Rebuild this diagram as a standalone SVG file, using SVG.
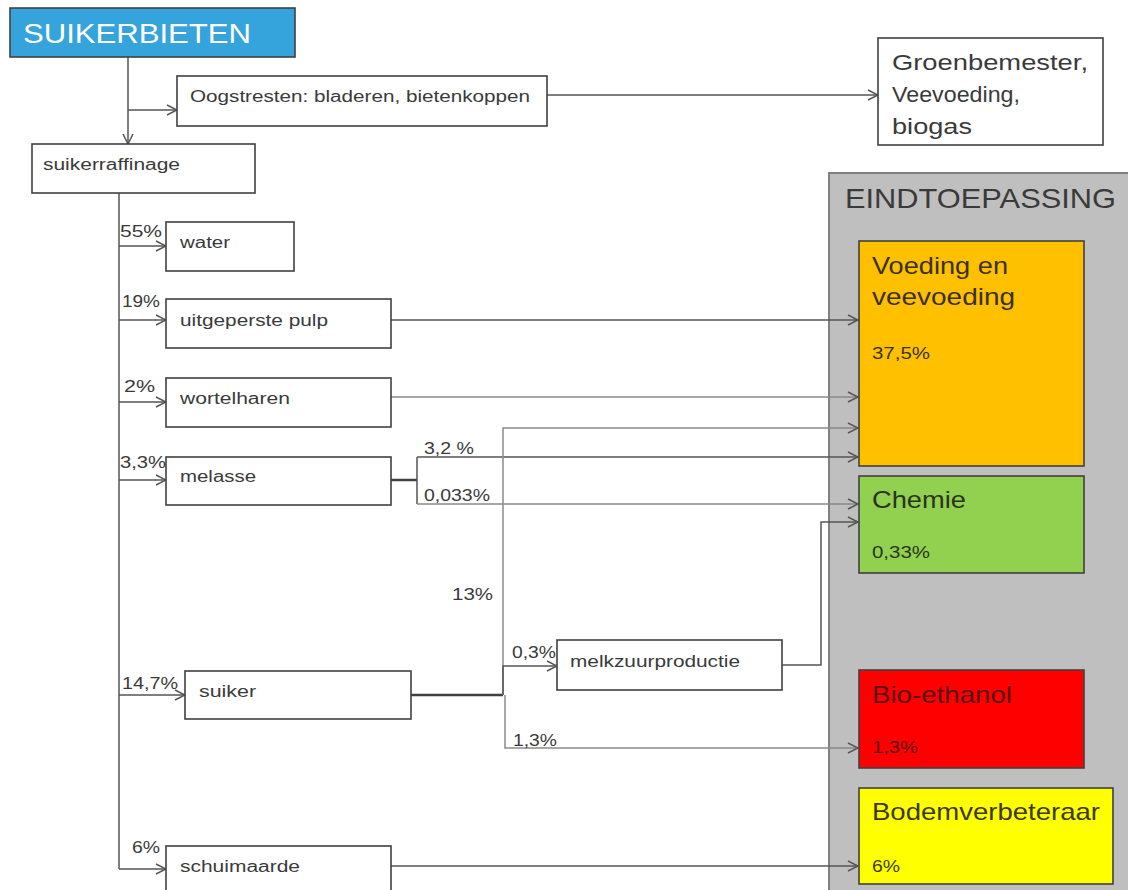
<svg xmlns="http://www.w3.org/2000/svg" width="1128" height="890" viewBox="0 0 1128 890">
<style>
.box{fill:#fff;stroke:#404040;stroke-width:1.6}
.t{font-family:"Liberation Sans",Arial,sans-serif;fill:#3a3a3a}
.s15{font-size:15px}
.s16{font-size:16px}
.s22{font-size:22px}
.s24{font-size:24px}
.s28{font-size:28px}
.w{fill:#fff}
.to{fill:#3a3020}
.tg{fill:#2a3320}
.tr{fill:#5a1010}
.ty{fill:#3a3a10}
.c{fill:none;stroke:#555;stroke-width:1.5}
.cl{fill:none;stroke:#8a8a8a;stroke-width:1.5}
.ck{fill:none;stroke:#404040;stroke-width:2.5}
</style>
<defs>
<marker id="arr" viewBox="0 0 12 12" refX="11" refY="6" markerWidth="12" markerHeight="12" orient="auto" markerUnits="userSpaceOnUse">
<path d="M1,1 L11,6 L1,11" fill="none" stroke="#555" stroke-width="1.5"/>
</marker>
</defs>
<rect width="1128" height="890" fill="#fff"/>
<g id="panel-eindtoepassing">
<rect x="829" y="173" width="310" height="730" fill="#BFBFBF" stroke="#808080" stroke-width="2"/>
<text class="t s28" x="845" y="208" textLength="271" lengthAdjust="spacingAndGlyphs">EINDTOEPASSING</text>
</g>
<g id="connectors">
<path class="c" d="M128,57 V144" marker-end="url(#arr)"/>
<path class="c" d="M128,110 H177" marker-end="url(#arr)"/>
<path class="c" d="M547,95 H878" marker-end="url(#arr)"/>
<path class="c" d="M119,193 V869"/>
<path class="c" d="M119,246 H166" marker-end="url(#arr)"/>
<path class="c" d="M119,320 H166" marker-end="url(#arr)"/>
<path class="c" d="M119,402 H166" marker-end="url(#arr)"/>
<path class="c" d="M119,480 H166" marker-end="url(#arr)"/>
<path class="c" d="M119,695 H185" marker-end="url(#arr)"/>
<path class="c" d="M119,869 H166" marker-end="url(#arr)"/>
<path class="c" d="M391,320 H858" marker-end="url(#arr)"/>
<path class="cl" d="M391,397 H858" marker-end="url(#arr)"/>
<path class="ck" d="M391,480 H417"/>
<path class="c" d="M417,457 V504"/>
<path class="c" d="M417,457 H858" marker-end="url(#arr)"/>
<path class="cl" d="M417,504 H858" marker-end="url(#arr)"/>
<path class="ck" d="M411,695 H503"/>
<path class="cl" d="M503,695 V428 H858" marker-end="url(#arr)"/>
<path class="c" d="M503,695 V666 H557" marker-end="url(#arr)"/>
<path class="cl" d="M505,695 V748 H858" marker-end="url(#arr)"/>
<path class="c" d="M782,665 H821 V522 H858" marker-end="url(#arr)"/>
<path class="c" d="M391,866 H858" marker-end="url(#arr)"/>
</g>
<g id="labels">
<text class="t s16" x="120" y="237" textLength="42" lengthAdjust="spacingAndGlyphs">55%</text>
<text class="t s16" x="122" y="307" textLength="38" lengthAdjust="spacingAndGlyphs">19%</text>
<text class="t s16" x="124" y="392" textLength="31" lengthAdjust="spacingAndGlyphs">2%</text>
<text class="t s16" x="120" y="468" textLength="46" lengthAdjust="spacingAndGlyphs">3,3%</text>
<text class="t s16" x="122" y="689" textLength="56" lengthAdjust="spacingAndGlyphs">14,7%</text>
<text class="t s16" x="132" y="853" textLength="28" lengthAdjust="spacingAndGlyphs">6%</text>
<text class="t s16" x="424" y="454" textLength="50" lengthAdjust="spacingAndGlyphs">3,2 %</text>
<text class="t s16" x="424" y="501" textLength="66" lengthAdjust="spacingAndGlyphs">0,033%</text>
<text class="t s16" x="452" y="600" textLength="41" lengthAdjust="spacingAndGlyphs">13%</text>
<text class="t s16" x="512" y="658" textLength="44" lengthAdjust="spacingAndGlyphs">0,3%</text>
<text class="t s16" x="513" y="746" textLength="44" lengthAdjust="spacingAndGlyphs">1,3%</text>
</g>
<g id="suikerbieten">
<rect x="10" y="8" width="285" height="49" fill="#35A3DC" stroke="#404040" stroke-width="1.6"/>
<text class="t s28 w" x="23" y="43" textLength="228" lengthAdjust="spacingAndGlyphs">SUIKERBIETEN</text>
</g>
<g id="oogstresten">
<rect class="box" x="177" y="76" width="370" height="50"/>
<text class="t s16" x="190" y="102" textLength="340" lengthAdjust="spacingAndGlyphs">Oogstresten: bladeren, bietenkoppen</text>
</g>
<g id="groenbemester">
<rect class="box" x="878" y="38" width="225" height="107"/>
<text class="t s22" x="892" y="70" textLength="196" lengthAdjust="spacingAndGlyphs">Groenbemester,</text>
<text class="t s22" x="892" y="102" textLength="128" lengthAdjust="spacingAndGlyphs">Veevoeding,</text>
<text class="t s22" x="892" y="134" textLength="80" lengthAdjust="spacingAndGlyphs">biogas</text>
</g>
<g id="suikerraffinage">
<rect class="box" x="32" y="144" width="223" height="49"/>
<text class="t s16" x="43" y="170" textLength="137" lengthAdjust="spacingAndGlyphs">suikerraffinage</text>
</g>
<g id="water">
<rect class="box" x="166" y="222" width="128" height="49"/>
<text class="t s16" x="180" y="248" textLength="50" lengthAdjust="spacingAndGlyphs">water</text>
</g>
<g id="pulp">
<rect class="box" x="166" y="299" width="225" height="49"/>
<text class="t s16" x="180" y="326" textLength="148" lengthAdjust="spacingAndGlyphs">uitgeperste pulp</text>
</g>
<g id="wortelharen">
<rect class="box" x="166" y="378" width="225" height="49"/>
<text class="t s16" x="180" y="404" textLength="110" lengthAdjust="spacingAndGlyphs">wortelharen</text>
</g>
<g id="melasse">
<rect class="box" x="166" y="457" width="225" height="48"/>
<text class="t s16" x="180" y="482" textLength="76" lengthAdjust="spacingAndGlyphs">melasse</text>
</g>
<g id="suiker">
<rect class="box" x="185" y="671" width="226" height="48"/>
<text class="t s16" x="199" y="697" textLength="57" lengthAdjust="spacingAndGlyphs">suiker</text>
</g>
<g id="schuimaarde">
<rect class="box" x="166" y="846" width="225" height="60"/>
<text class="t s16" x="180" y="872" textLength="120" lengthAdjust="spacingAndGlyphs">schuimaarde</text>
</g>
<g id="melkzuurproductie">
<rect class="box" x="557" y="640" width="225" height="50"/>
<text class="t s16" x="570" y="667" textLength="170" lengthAdjust="spacingAndGlyphs">melkzuurproductie</text>
</g>
<g id="voeding">
<rect x="859" y="241" width="225" height="225" fill="#FFC000" stroke="#404040" stroke-width="1.6"/>
<text class="t s24 to" x="872" y="274" textLength="136" lengthAdjust="spacingAndGlyphs">Voeding en</text>
<text class="t s24 to" x="872" y="305" textLength="143" lengthAdjust="spacingAndGlyphs">veevoeding</text>
<text class="t s16 to" x="872" y="359" textLength="58" lengthAdjust="spacingAndGlyphs">37,5%</text>
</g>
<g id="chemie">
<rect x="859" y="476" width="225" height="97" fill="#92D050" stroke="#404040" stroke-width="1.6"/>
<text class="t s24 tg" x="872" y="508" textLength="94" lengthAdjust="spacingAndGlyphs">Chemie</text>
<text class="t s16 tg" x="872" y="558" textLength="58" lengthAdjust="spacingAndGlyphs">0,33%</text>
</g>
<g id="bio-ethanol">
<rect x="859" y="670" width="225" height="98" fill="#FF0000" stroke="#404040" stroke-width="1.6"/>
<text class="t s24 tr" x="872" y="703" textLength="140" lengthAdjust="spacingAndGlyphs">Bio-ethanol</text>
<text class="t s16 tr" x="872" y="753" textLength="46" lengthAdjust="spacingAndGlyphs">1,3%</text>
</g>
<g id="bodemverbeteraar">
<rect x="859" y="788" width="254" height="96" fill="#FFFF00" stroke="#404040" stroke-width="1.6"/>
<text class="t s24 ty" x="872" y="820" textLength="228" lengthAdjust="spacingAndGlyphs">Bodemverbeteraar</text>
<text class="t s16 ty" x="872" y="872" textLength="28" lengthAdjust="spacingAndGlyphs">6%</text>
</g>
</svg>
